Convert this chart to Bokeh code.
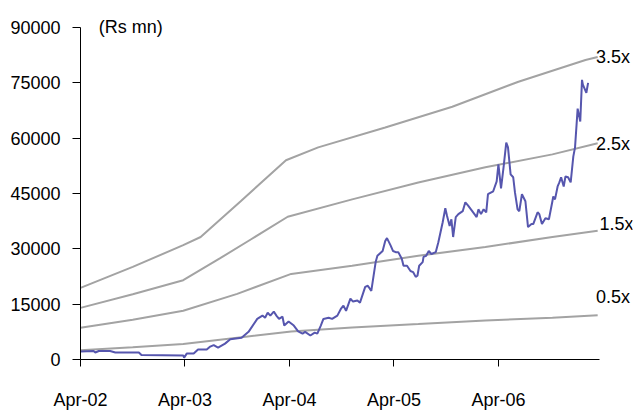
from bokeh.plotting import figure
from bokeh.models import Range1d, FixedTicker, Label
from bokeh.embed import file_html
from bokeh.resources import INLINE

# x in months since Apr-2002
x_ticks = [0, 12, 24, 36, 48]
x_labels = ["Apr-02", "Apr-03", "Apr-04", "Apr-05", "Apr-06"]
y_ticks = [0, 15000, 30000, 45000, 60000, 75000, 90000]

band_35_x = [0, 6, 11.8, 13.8, 18.4, 23.6, 27.3, 35, 42.7, 50.3, 58, 59.4]
band_35_y = [19400, 25100, 31000, 33200, 42900, 54000, 57500, 62900, 68500, 75300, 81200, 82000]
band_25_x = [0, 6, 11.8, 16, 19.6, 23.8, 31.2, 38.8, 46.5, 54.2, 59.4]
band_25_y = [14000, 17700, 21500, 27400, 32600, 38700, 43400, 48000, 52100, 55600, 58600]
band_15_x = [0, 6, 11.8, 18, 24.2, 31.2, 38.8, 46.5, 54.2, 59.4]
band_15_y = [8600, 10800, 13200, 17800, 23200, 25400, 28100, 30500, 33200, 34900]
band_05_x = [0, 6, 11.8, 18, 24.2, 31.2, 38.8, 46.5, 54.2, 59.4]
band_05_y = [2500, 3300, 4200, 5900, 7600, 8700, 9600, 10600, 11300, 12000]

mcap_x = [0, 1.5, 1.7, 2.1, 3.4, 4.0, 6.7, 7.0, 11.8, 11.9, 12.2, 13.0, 13.5, 14.5, 14.9,
          15.3, 15.8, 16.6, 17.2, 18.5, 19.3, 20.3, 20.9, 21.2, 21.5, 21.8, 22.2, 22.5,
          22.8, 23.2, 23.4, 23.9, 24.5, 25.0, 25.5, 25.8, 26.4, 26.9, 27.2, 27.6, 27.9,
          28.5, 28.9, 29.5, 29.9, 30.2, 30.5, 31.0, 31.3, 31.8, 32.1, 32.7, 33.0, 33.4,
          33.9, 34.1, 34.7, 35.0, 35.2, 35.6, 35.9, 36.2, 36.5, 36.9, 37.1, 37.5, 37.9,
          38.2, 38.5, 38.7, 38.9, 39.3, 39.4, 39.7, 40.0, 40.3, 40.8, 41.1, 41.6, 41.9,
          42.1, 42.4, 42.6, 42.8, 43.1, 43.4, 43.9, 44.2, 44.5, 45.1, 45.5, 45.7, 46.0,
          46.3, 46.6, 46.8, 47.4, 47.8, 48.0, 48.3, 48.6, 48.9, 49.1, 49.4, 49.7, 49.9,
          50.2, 50.4, 50.7, 51.1, 51.4, 51.8, 52.0, 52.5, 52.7, 53.0, 53.4, 53.8, 54.2,
          54.3, 54.5, 54.8, 55.0, 55.2, 55.5, 55.7, 56.0, 56.3, 56.6, 56.8, 57.1, 57.4,
          57.6, 57.7, 58.1, 58.3]
mcap_y = [2200, 2300, 1900, 2300, 2300, 1900, 1900, 1200, 1100, 500, 1600, 1600, 2700, 2700, 3500,
          3900, 3200, 4300, 5500, 5900, 7500, 11000, 11900, 11300, 12700, 11900, 13000, 11900,
          11000, 11600, 9200, 10300, 9200, 7600, 7000, 7500, 6500, 7300, 7000, 9200, 11000,
          11300, 11000, 11900, 13700, 14600, 13200, 16500, 15700, 16000, 15400, 19700, 20000, 18600,
          26400, 28100, 29400, 32100, 32900, 31000, 29400, 29100, 29100, 27300, 25400, 25400, 24000,
          23700, 22400, 22700, 25400, 26400, 27800, 28100, 29400, 28600, 29100, 31800, 37200, 41000,
          38900, 36200, 38000, 33200, 38600, 39400, 40200, 42600, 41800, 39900, 38600, 40700, 39400,
          40700, 39900, 44800, 45600, 48300, 52900, 46400, 52300, 58800, 57500, 50200, 49400, 45300,
          40700, 40200, 44800, 42900, 35900, 36700, 36700, 39900, 39400, 36700, 38300, 38000, 42900,
          44200, 43400, 46900, 48000, 49400, 46900, 49600, 49400, 48000, 55000, 57500, 68000, 64500,
          75800, 74500, 72300, 75000]

band_labels = ["3.5x", "2.5x", "1.5x", "0.5x"]
label_x = [59.2, 59.2, 59.6, 59.2]
label_y = [82000, 58500, 36700, 17000]

FONT = "Liberation Sans"
GRAY = "#A3A3A3"
BLUE = "#5656AE"

p = figure(width=634, height=412, output_backend="svg", toolbar_location=None,
           x_range=Range1d(0, 63.4), y_range=Range1d(0, 94600),
           min_border_left=80, min_border_right=2, min_border_top=10, min_border_bottom=51)
p.outline_line_color = None
p.xgrid.visible = False
p.ygrid.visible = False
p.background_fill_color = "white"
p.border_fill_color = "white"

for bx, by in [(band_35_x, band_35_y), (band_25_x, band_25_y), (band_15_x, band_15_y), (band_05_x, band_05_y)]:
    p.line(bx, by, line_color=GRAY, line_width=2)
p.line(mcap_x, mcap_y, line_color=BLUE, line_width=2)

for t, lx, ly in zip(band_labels, label_x, label_y):
    p.add_layout(Label(x=lx, y=ly, text=t, text_font=FONT, text_font_size="18px",
                       text_align="left", text_baseline="middle", text_color="black"))

p.add_layout(Label(x=2.1, y=90000, text="(Rs mn)", text_font=FONT, text_font_size="18px",
                   text_align="left", text_baseline="middle", text_color="black"))

xa = p.xaxis[0]
xa.bounds = (0, 59.6)
xa.ticker = FixedTicker(ticks=x_ticks)
xa.major_label_overrides = {t: l for t, l in zip(x_ticks, x_labels)}
xa.minor_tick_line_color = None
xa.major_tick_in = 0
xa.major_tick_out = 7
xa.major_label_standoff = 23
xa.axis_line_color = "black"
xa.major_tick_line_color = "black"
xa.major_label_text_font = FONT
xa.major_label_text_font_size = "18px"
xa.major_label_text_color = "black"

ya = p.yaxis[0]
ya.bounds = (0, 90000)
ya.ticker = FixedTicker(ticks=y_ticks)
ya.minor_tick_line_color = None
ya.major_tick_in = 0
ya.major_tick_out = 8
ya.major_label_standoff = 12
ya.axis_line_color = "black"
ya.major_tick_line_color = "black"
ya.major_label_text_font = FONT
ya.major_label_text_font_size = "18px"
ya.major_label_text_color = "black"

open("out.html", "w").write(file_html(p, INLINE))
